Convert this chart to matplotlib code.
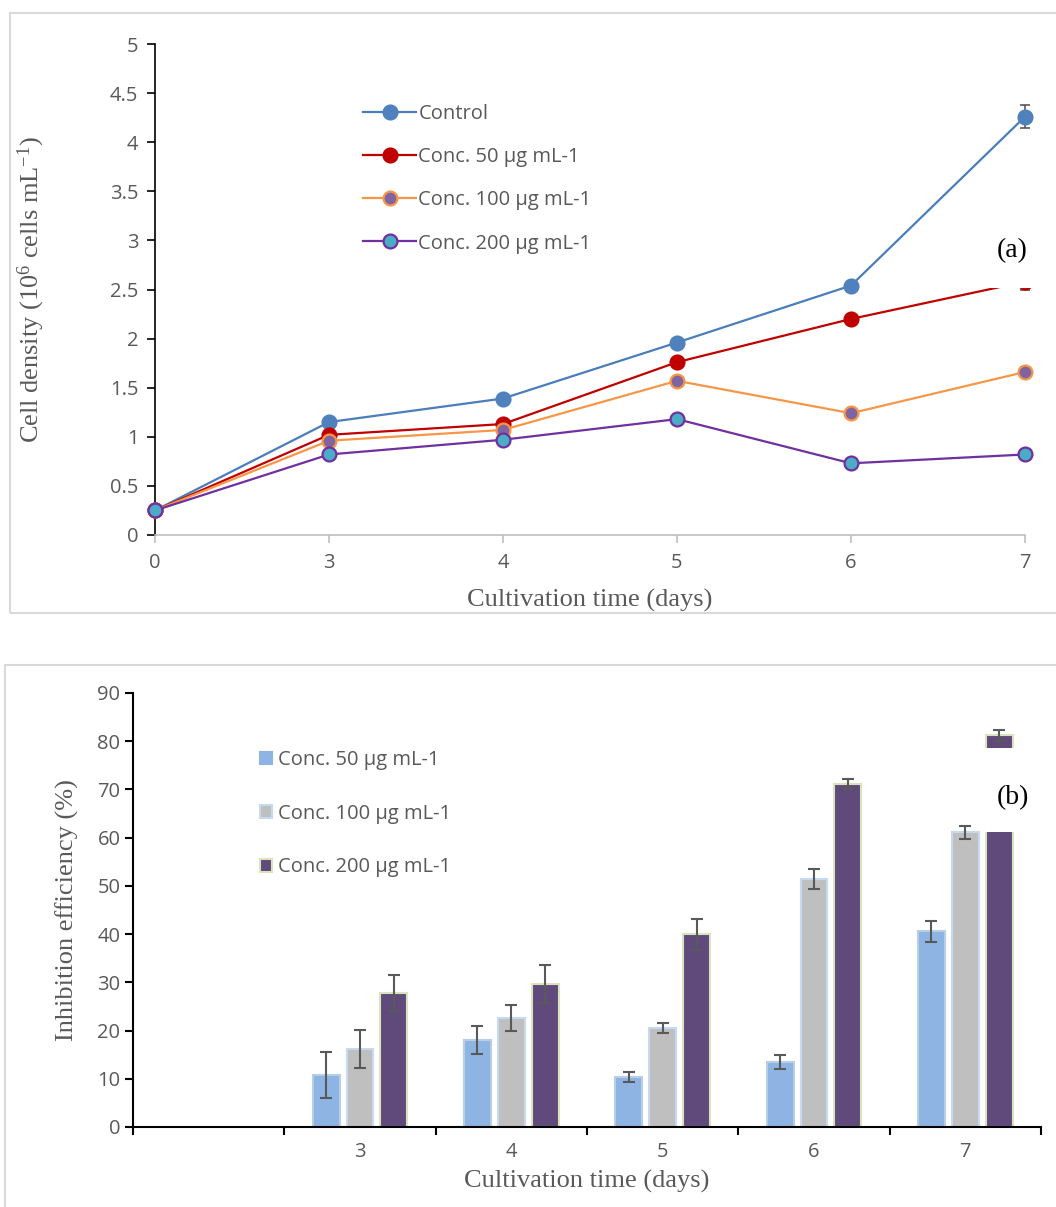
import matplotlib
matplotlib.use('Agg')
import matplotlib.pyplot as plt
import numpy as np
from matplotlib.patches import Rectangle
from matplotlib.lines import Line2D

# ---------------- data (a) ----------------
days_a = ['0', '3', '4', '5', '6', '7']
control = [0.25, 1.15, 1.39, 1.96, 2.54, 4.26]
control_err = [0.01, 0.02, 0.02, 0.02, 0.02, 0.12]
conc50 = [0.25, 1.02, 1.13, 1.76, 2.20, 2.58]
conc50_err = [0.01, 0.02, 0.02, 0.02, 0.02, 0.08]
conc100 = [0.25, 0.96, 1.07, 1.57, 1.24, 1.66]
conc100_err = [0.01, 0.02, 0.02, 0.02, 0.03, 0.05]
conc200 = [0.25, 0.82, 0.97, 1.18, 0.73, 0.82]
conc200_err = [0.01, 0.02, 0.02, 0.02, 0.02, 0.02]
labels_a = ['Control', 'Conc. 50 μg mL-1', 'Conc. 100 μg mL-1', 'Conc. 200 μg mL-1']

# ---------------- data (b) ----------------
categories_b = ['', '3', '4', '5', '6', '7']
inh50 = [10.8, 18.0, 10.4, 13.5, 40.6]
inh50_err = [4.8, 2.9, 1.0, 1.5, 2.2]
inh100 = [16.2, 22.6, 20.5, 51.4, 61.1]
inh100_err = [3.9, 2.7, 1.1, 2.0, 1.3]
inh200 = [27.8, 29.6, 40.0, 71.1, 81.2]
inh200_err = [3.8, 3.9, 3.2, 1.0, 1.1]
labels_b = ['Conc. 50 μg mL-1', 'Conc. 100 μg mL-1', 'Conc. 200 μg mL-1']

plt.rcParams['font.family'] = ['Open Sans', 'DejaVu Sans']
plt.rcParams['mathtext.fontset'] = 'custom'
plt.rcParams['mathtext.rm'] = 'Liberation Serif'
plt.rcParams['mathtext.it'] = 'Liberation Serif:italic'
plt.rcParams['mathtext.bf'] = 'Liberation Serif:bold'

W, H = 1056, 1207
fig = plt.figure(figsize=(W / 100, H / 100), dpi=100)
TXT = '#595959'
SERIF = ['Liberation Serif', 'DejaVu Serif']
FS = 14.5
LFS = 19

def fx(px):
    return px / W

def fy(py):
    return 1 - py / H

# panel borders
fig.add_artist(Rectangle((fx(10), fy(613)), fx(1070) - fx(10), fy(13) - fy(613),
                         transform=fig.transFigure, facecolor='none',
                         edgecolor='#D9D9D9', lw=1.5, zorder=0))
fig.add_artist(Rectangle((fx(5), fy(1220)), fx(1070) - fx(5), fy(665) - fy(1220),
                         transform=fig.transFigure, facecolor='none',
                         edgecolor='#D9D9D9', lw=1.5, zorder=0))

# ================= panel (a) =================
ax = fig.add_axes([fx(155), fy(535), fx(1025) - fx(155), fy(44) - fy(535)])
xa = np.arange(len(days_a))
styles = [
    (control, control_err, '#4A7EBB', '#4F81BD', '#4F81BD'),
    (conc50, conc50_err, '#C00000', '#C00000', '#C00000'),
    (conc100, conc100_err, '#F79646', '#8064A2', '#F79646'),
    (conc200, conc200_err, '#7030A0', '#4BACC6', '#7030A0'),
]
handles = []
for (vals, err, lc, mfc, mec), lab in zip(styles, labels_a):
    ax.errorbar(xa, vals, yerr=err, fmt='none', ecolor='#595959', elinewidth=1.2,
                capsize=3.3, capthick=1.2, clip_on=False, zorder=2)
    ax.plot(xa, vals, color=lc, lw=1.6, marker='o', ms=10, mfc=mfc, mec=mec,
            mew=1.6, clip_on=False, zorder=3)
    handles.append(Line2D([], [], color=lc, lw=1.6, marker='o', ms=10, mfc=mfc,
                          mec=mec, mew=1.6))

ax.set_xlim(0, len(days_a) - 1)
ax.set_ylim(0, 5)
ax.set_xticks(xa)
ax.set_xticklabels(days_a)
yt = np.arange(0, 5.01, 0.5)
ax.set_yticks(yt)
ax.set_yticklabels([f'{v:g}' for v in yt])
for s in ['top', 'right']:
    ax.spines[s].set_visible(False)
ax.spines['left'].set_color('black')
ax.spines['left'].set_linewidth(1.2)
ax.spines['bottom'].set_color('#BFBFBF')
ax.spines['bottom'].set_linewidth(1.2)
ax.tick_params(axis='y', direction='out', length=6, width=1.2, color='black',
               labelsize=FS, labelcolor=TXT, pad=6)
ax.tick_params(axis='x', direction='out', length=6, width=1.2, color='#BFBFBF',
               labelsize=FS, labelcolor=TXT, pad=7)
ax.set_xlabel('Cultivation time (days)', fontsize=LFS, family=SERIF, color=TXT)
ax.xaxis.set_label_coords(0.5, -0.110)
ax.set_ylabel('Cell density (10$^{6}$ cells mL$^{-1}$)', fontsize=LFS, family=SERIF,
              color=TXT)
ax.yaxis.set_label_coords(-0.124, 0.5)

fig.legend(handles, labels_a, loc='upper left', bbox_to_anchor=(fx(353), fy(94)),
           frameon=False, fontsize=FS, handlelength=2.64, handletextpad=0.1,
           labelspacing=1.15, borderpad=0, labelcolor=TXT)

# (a) label box
fig.add_artist(Rectangle((fx(985), fy(288)), fx(1045) - fx(985), fy(222) - fy(288),
                         transform=fig.transFigure, facecolor='white',
                         edgecolor='none', zorder=5))
fig.text(fx(1012), fy(251), '(a)', fontsize=20, family=SERIF, color='black',
         ha='center', va='center', zorder=6)

# ================= panel (b) =================
bx = fig.add_axes([fx(133), fy(1127), fx(1041) - fx(133), fy(693) - fy(1127)])
xb = np.arange(1, len(categories_b)) + 0.5
off, bw = 0.224, 0.178
bar_styles = [
    (inh50, inh50_err, '#8DB4E2', '#B9CDE5'),
    (inh100, inh100_err, '#BFBFBF', '#C6D9F1'),
    (inh200, inh200_err, '#604A7B', '#D7E4BD'),
]
bar_handles = []
for k, ((vals, err, fc, ec), lab) in enumerate(zip(bar_styles, labels_b)):
    pos = xb + (k - 1) * off
    bx.bar(pos, vals, width=bw, color=fc, edgecolor=ec, linewidth=1.5, zorder=2)
    bx.errorbar(pos, vals, yerr=err, fmt='none', ecolor='#595959', elinewidth=1.5,
                capsize=4.3, capthick=1.5, zorder=3, clip_on=False)
    bar_handles.append(Rectangle((0, 0), 1, 1, facecolor=fc,
                                 edgecolor=(ec if k > 0 else fc), linewidth=1.5))

bx.set_xlim(0, len(categories_b))
bx.set_ylim(0, 90)
bx.set_yticks(np.arange(0, 91, 10))
bx.set_xticks(np.arange(0, len(categories_b) + 1))
bx.set_xticklabels([])
bx.set_xticks(np.arange(len(categories_b)) + 0.5, minor=True)
bx.set_xticklabels(categories_b, minor=True)
for s in ['top', 'right']:
    bx.spines[s].set_visible(False)
for s in ['left', 'bottom']:
    bx.spines[s].set_color('black')
    bx.spines[s].set_linewidth(1.5)
bx.tick_params(axis='y', direction='out', length=6, width=1.5, color='black',
               labelsize=FS, labelcolor=TXT, pad=3)
bx.tick_params(axis='x', which='major', direction='out', length=6, width=1.5,
               color='black')
bx.tick_params(axis='x', which='minor', length=0, labelsize=FS, labelcolor=TXT, pad=11)
bx.set_xlabel('Cultivation time (days)', fontsize=LFS, family=SERIF, color=TXT)
bx.xaxis.set_label_coords(0.5, -0.098)
bx.set_ylabel('Inhibition efficiency (%)', fontsize=LFS, family=SERIF, color=TXT)
bx.yaxis.set_label_coords(-0.059, 0.5)

fig.legend(bar_handles, labels_b, loc='upper left', bbox_to_anchor=(fx(250), fy(740)),
           frameon=False, fontsize=FS, handlelength=0.6, handleheight=0.6,
           handletextpad=0.3, labelspacing=1.67, borderpad=0, labelcolor=TXT)

# (b) label box
fig.add_artist(Rectangle((fx(982), fy(832)), fx(1045) - fx(982), fy(748) - fy(832),
                         transform=fig.transFigure, facecolor='white',
                         edgecolor='none', zorder=5))
fig.text(fx(1013), fy(798), '(b)', fontsize=20, family=SERIF, color='black',
         ha='center', va='center', zorder=6)

fig.savefig('out.png', dpi=100)
